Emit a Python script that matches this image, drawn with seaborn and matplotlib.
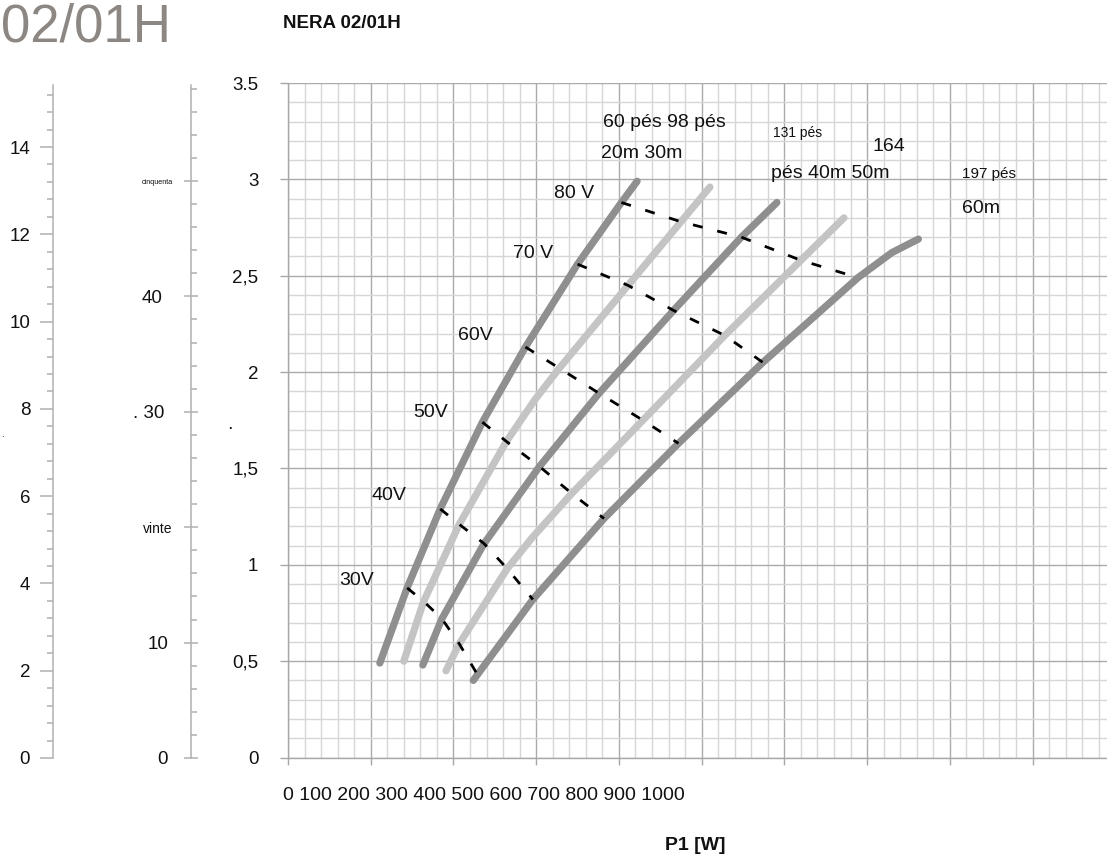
import numpy as np
import pandas as pd
import matplotlib
matplotlib.use("Agg")
import matplotlib.pyplot as plt
import matplotlib.transforms as mtransforms
from matplotlib.ticker import MultipleLocator
import seaborn as sns

# ---------------- data ----------------
curve_names = ["20m", "30m", "40m", "50m", "60m"]

p1_20m = [111, 144, 184, 235, 287, 350, 403, 422]
h_20m = [0.49, 0.88, 1.29, 1.74, 2.13, 2.56, 2.88, 2.99]
v_20m = [None, 30, 40, 50, 60, 70, 80, None]

p1_30m = [140, 164, 207, 264, 299, 328, 411, 475, 510]
h_30m = [0.50, 0.81, 1.21, 1.64, 1.86, 2.02, 2.45, 2.78, 2.96]
v_30m = [None, 30, 40, 50, None, 60, 70, 80, None]

p1_40m = [163, 186, 237, 304, 376, 466, 548, 591]
h_40m = [0.48, 0.72, 1.11, 1.51, 1.89, 2.32, 2.70, 2.88]
v_40m = [None, 30, 40, 50, 60, 70, 80, None]

p1_50m = [191, 207, 265, 295, 343, 429, 528, 620, 672]
h_50m = [0.45, 0.59, 0.98, 1.14, 1.37, 1.75, 2.19, 2.58, 2.80]
v_50m = [None, 30, 40, None, 50, 60, 70, 80, None]

p1_60m = [224, 229, 296, 382, 472, 574, 689, 730, 762]
h_60m = [0.40, 0.43, 0.82, 1.24, 1.63, 2.05, 2.49, 2.62, 2.69]
v_60m = [None, 30, 40, 50, 60, 70, 80, None, None]

main_yticks = [0, 0.5, 1, 1.5, 2, 2.5, 3, 3.5]
main_ylabels = ["0", "0,5", "1", "1,5", "2", "2,5", "3", "3.5"]
left1_ticks = [0, 2, 4, 6, 8, 10, 12, 14]
left1_labels = ["0", "2", "4", "6", "8", "10", "12", "14"]
left2_ticks = [0, 10, 20, 30, 40, 50]
left2_labels = ["0", "10", "vinte", ". 30", "40", "cinquenta"]
xtick_string = "0 100 200 300 400 500 600 700 800 900 1000"

voltage_labels = ["30V", "40V", "50V", "60V", "70 V", "80 V"]
head_labels = ["60 pés 98 pés", "20m 30m", "131 pés", "164", "pés 40m 50m", "197 pés", "60m"]

# ---------------- build tables ----------------
frames = []
for name, xs, ys, vs in [("20m", p1_20m, h_20m, v_20m),
                         ("30m", p1_30m, h_30m, v_30m),
                         ("40m", p1_40m, h_40m, v_40m),
                         ("50m", p1_50m, h_50m, v_50m),
                         ("60m", p1_60m, h_60m, v_60m)]:
    frames.append(pd.DataFrame({"curve": name, "p1": xs, "h": ys,
                                "volt": [np.nan if v is None else v for v in vs]}))
df = pd.concat(frames, ignore_index=True)
dfv = df.dropna(subset=["volt"]).copy()
dfv["order"] = dfv["curve"].map({n: i for i, n in enumerate(curve_names)})
dfv = dfv.sort_values(["volt", "order"])

DARK = "#8f8f8f"
LIGHT = "#c4c4c4"
palette = {"20m": DARK, "30m": LIGHT, "40m": DARK, "50m": LIGHT, "60m": DARK}

# ---------------- figure ----------------
sns.set_style("white")
plt.rcParams["font.family"] = ["Liberation Sans", "DejaVu Sans"]

W, H = 1107, 857
fig = plt.figure(figsize=(W / 100, H / 100), dpi=100)

def fx(px):
    return px / W

def fy(py):
    return 1 - py / H

AXC = "#b0b0b0"

# main axes
ax = fig.add_axes([fx(288), fy(757.5), 1 - fx(288), (757.5 - 83) / H])
ax.set_xlim(0, 990)
ax.set_ylim(0, 3.5)
ax.xaxis.set_major_locator(MultipleLocator(100))
ax.xaxis.set_minor_locator(MultipleLocator(20))
ax.yaxis.set_minor_locator(MultipleLocator(0.1))
ax.set_yticks(main_yticks)
ax.set_yticklabels(main_ylabels)
ax.grid(which="minor", color="#d6d6d6", lw=1.0)
ax.grid(which="major", color="#ababab", lw=1.0)
ax.set_axisbelow(True)
for s in ["top", "right"]:
    ax.spines[s].set_visible(False)
for s in ["left", "bottom"]:
    ax.spines[s].set_color("#a8a8a8")
    ax.spines[s].set_linewidth(1.0)
ax.tick_params(which="minor", length=0, left=False, bottom=False)
ax.tick_params(axis="x", which="major", bottom=True, length=5, width=1.0,
               color="#a8a8a8", labelbottom=False)
ax.tick_params(axis="y", which="major", left=True, length=5.8, width=1.0, color="#a8a8a8",
               pad=15.5, labelsize=13.5, labelcolor="#111111")

sns.lineplot(data=df, x="p1", y="h", hue="curve", palette=palette, units="curve",
             estimator=None, sort=True, lw=5.2, legend=False, ax=ax,
             solid_capstyle="round", solid_joinstyle="round", zorder=2)
sns.lineplot(data=dfv, x="p1", y="h", units="volt", estimator=None, sort=False,
             color="black", lw=2.0, legend=False, ax=ax, zorder=3,
             linestyle=(0, (3.6, 5.4)), dash_capstyle="butt")
ax.set_xlabel("")
ax.set_ylabel("")

# left auxiliary axis 1 (0-14)
ax1 = fig.add_axes([fx(53), fy(758), 0.002, (758 - 85) / H])
ax1.set_ylim(0, (758 - 85) / 43.64)
ax1.set_yticks(left1_ticks)
ax1.set_yticklabels(left1_labels)
ax1.yaxis.set_minor_locator(MultipleLocator(0.4))
ax1.set_xticks([])
ax1.patch.set_visible(False)
for s in ["top", "right", "bottom"]:
    ax1.spines[s].set_visible(False)
ax1.spines["left"].set_color(AXC)
ax1.spines["left"].set_linewidth(1.1)
ax1.tick_params(axis="y", which="major", left=True, direction="out", length=9.4, width=1.1,
                color=AXC, pad=7.0, labelsize=13.5, labelcolor="#111111")
ax1.tick_params(axis="y", which="minor", left=True, direction="out", length=4.5,
                width=1.1, color=AXC)

# left auxiliary axis 2 (0-50)
ax2 = fig.add_axes([fx(191), fy(758), 0.002, (758 - 85) / H])
ax2.set_ylim(0, (758 - 85) / 11.54)
ax2.set_yticks(left2_ticks)
ax2.set_yticklabels(left2_labels)
ax2.yaxis.set_minor_locator(MultipleLocator(2))
ax2.set_xticks([])
ax2.patch.set_visible(False)
for s in ["top", "right", "bottom"]:
    ax2.spines[s].set_visible(False)
ax2.spines["left"].set_color(AXC)
ax2.spines["left"].set_linewidth(1.1)
ax2.tick_params(axis="y", which="major", left=True, direction="inout", length=10, width=1.1,
                color=AXC, pad=11.6, labelsize=13.5, labelcolor="#111111")
ax2.tick_params(axis="y", which="minor", left=True, direction="in", length=4.5,
                width=1.1, color=AXC)
label_sizes = {"cinquenta": 5.2, "vinte": 10}
label_shift = {"0": 0, "10": 1, "vinte": 5, ". 30": -4, "40": -5, "cinquenta": 5}
for lab in ax2.get_yticklabels():
    t = lab.get_text()
    if t in label_sizes:
        lab.set_fontsize(label_sizes[t])
    dx = label_shift.get(t, 0)
    lab.set_transform(lab.get_transform() +
                      mtransforms.ScaledTranslation(dx / 100, 0, fig.dpi_scale_trans))

# texts
fig.text(fx(1), fy(42), "02/01H", ha="left", va="baseline", fontsize=38, color="#8c8782")
fig.text(fx(283), fy(28), "NERA 02/01H", ha="left", va="baseline", fontsize=13.5,
         fontweight="bold", color="#111111")
fig.text(fx(283), fy(795), xtick_string, ha="left", va="center", fontsize=14, color="#111111")
fig.text(fx(695), fy(846), "P1 [W]", ha="center", va="center", fontsize=14,
         fontweight="bold", color="#111111")

volt_pos = [(339, 585), (372, 500), (413, 417), (458, 340), (513, 258), (554, 198)]
for lab, (px, py) in zip(voltage_labels, volt_pos):
    fig.text(fx(px), fy(py), lab, ha="left", va="baseline", fontsize=14, color="#111111")

head_pos = [(603, 127, 14), (601, 158, 14), (773, 137, 10), (873, 151, 14),
            (771, 178, 14), (962, 178, 11), (962, 213, 14)]
for lab, (px, py, fs) in zip(head_labels, head_pos):
    fig.text(fx(px), fy(py), lab, ha="left", va="baseline", fontsize=fs, color="#111111")

fig.text(fx(230), fy(429), ".", ha="center", va="baseline", fontsize=9,
         fontweight="bold", color="#111111")
fig.text(fx(1), fy(437), ".", ha="left", va="baseline", fontsize=7, color="#111111")

fig.savefig("out.png", dpi=100)
